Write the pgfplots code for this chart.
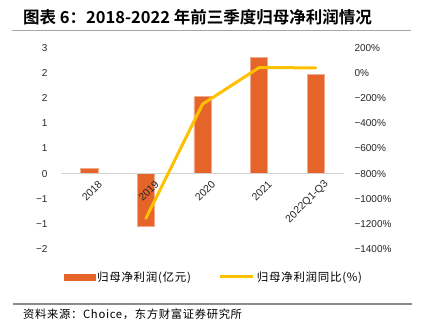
\documentclass[border=0pt]{standalone}
\usepackage{fontspec}
\usepackage{pgfplots}
\pgfplotsset{compat=1.18}
\setmainfont{Liberation Sans}
\newfontfamily\cjk{Noto Sans CJK SC}[BoldFont={Noto Sans CJK SC Bold}]
\newfontfamily\cjkwide{Noto Sans CJK SC}[LetterSpace=6]
\definecolor{barorange}{RGB}{229,100,42}
\definecolor{baredge}{RGB}{243,170,140}
\definecolor{gold}{RGB}{255,192,0}
\begin{document}
\begin{tikzpicture}
\useasboundingbox (0pt,0pt) rectangle (421pt,333pt);
\node[anchor=west, inner sep=0pt] at (23pt,316pt) {\cjk\bfseries\fontsize{16.5}{18}\selectfont 图表 6：2018-2022 年前三季度归母净利润情况};
\draw[gray!70, line width=1.6pt] (12pt,302.5pt) -- (411pt,302.5pt);
\draw[gray!90, line width=1.2pt] (13pt,29pt) -- (412pt,29pt);
\node[anchor=west, inner sep=0pt] at (23pt,19pt) {\cjkwide\fontsize{11.3}{13}\selectfont 资料来源：Choice，东方财富证券研究所};

\begin{axis}[
  at={(61pt,84pt)}, anchor=south west,
  scale only axis, width=283pt, height=201pt,
  xmin=-0.5, xmax=4.5, ymin=-1.5, ymax=2.5,
  axis on top,
  axis x line=middle, axis y line=left,
  x axis line style={-, draw=gray!35, line width=0.8pt},
  y axis line style={draw=none},
  major tick length=0pt,
  xtick={0,1,2,3,4},
  xticklabels={2018,2019,2020,2021,2022Q1-Q3},
  xticklabel style={rotate=45, anchor=east, xshift=5pt, yshift=-14pt, font=\fontsize{10.5}{12}\selectfont, text=black!85},
  ytick={-1.5,-1,-0.5,0,0.5,1,1.5,2,2.5},
  yticklabels={−2,−1,−1,0,1,1,2,2,3},
  yticklabel style={font=\fontsize{10}{12}\selectfont, text=black!85, xshift=-10pt},
  legend style={at={(axis description cs:0.54,-0.139)}, anchor=center, draw=none, fill=none,
    legend columns=2, font=\cjkwide\fontsize{11.5}{13}\selectfont,
    /tikz/every even column/.append style={column sep=26pt}},
  clip=false,
]
\addplot[ybar, bar width=17.3pt, fill=barorange, draw=baredge, line width=0.6pt,
  legend image code/.code={\fill[barorange] (0pt,-3pt) rectangle (31pt,3pt);}]
  coordinates {(0,0.10) (1,-1.04) (2,1.53) (3,2.32) (4,1.98)};
\addlegendentry{归母净利润(亿元)}
\addlegendimage{legend image code/.code={\draw[gold, line width=3pt] (0pt,0pt) -- (33pt,0pt);}}
\addlegendentry{归母净利润同比(\%)}
\end{axis}

\begin{axis}[
  at={(61pt,84pt)}, anchor=south west,
  scale only axis, width=283pt, height=201pt,
  xmin=-0.5, xmax=4.5, ymin=-1400, ymax=200,
  axis x line=none, axis y line*=right,
  y axis line style={draw=none},
  major tick length=0pt,
  ytick={-1400,-1200,-1000,-800,-600,-400,-200,0,200},
  yticklabels={−1400\%,−1200\%,−1000\%,−800\%,−600\%,−400\%,−200\%,0\%,200\%},
  yticklabel style={font=\fontsize{10}{12}\selectfont, text=black!85, xshift=7pt},
]
\addplot[gold, line width=3pt, line cap=round, line join=round]
  coordinates {(1,-1156) (2,-247) (3,44) (4,42)};
\end{axis}
\end{tikzpicture}
\end{document}
